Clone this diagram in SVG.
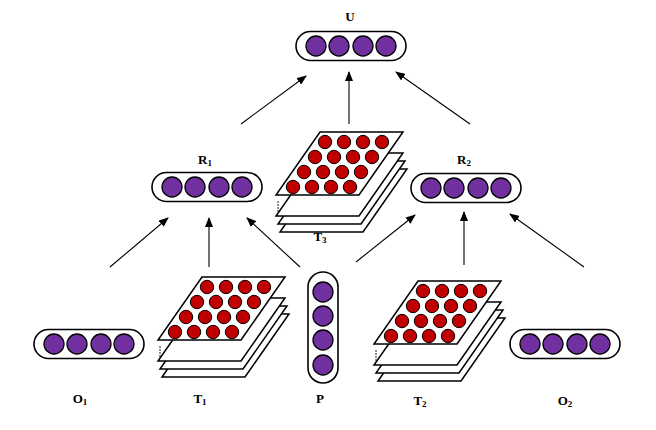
<svg xmlns="http://www.w3.org/2000/svg" xmlns:xlink="http://www.w3.org/1999/xlink" width="656" height="430" viewBox="0 0 656 430">
<style>
.pill{fill:#fff;stroke:#000;stroke-width:1.6}
.p{fill:#7030a0;stroke:#000;stroke-width:1.3}
.r{fill:#c00000;stroke:#000;stroke-width:1}
.sh{fill:#fff;stroke:#000;stroke-width:1.5}
.lbl{font-family:"Liberation Serif",serif;font-weight:bold;font-size:13px;text-anchor:middle}
.sub{font-size:9px}
.c{stroke:#000;stroke-width:1.1;fill:none;marker-end:url(#ah)}
</style>
<defs>
<marker id="ah" markerWidth="10" markerHeight="8" refX="9" refY="4" orient="auto" markerUnits="userSpaceOnUse"><path d="M0,0 L10,4 L0,8 z" fill="#000"/></marker>
<g id="hp"><rect class="pill" x="-55" y="-14.5" width="110" height="29" rx="14.5"/><circle class="p" cx="-35" cy="0" r="10"/><circle class="p" cx="-12" cy="0" r="10"/><circle class="p" cx="12" cy="0" r="10"/><circle class="p" cx="35" cy="0" r="10"/></g>
<g id="ten">
<path class="sh" d="M48,37 L131,37 L87,100 L4,100 Z"/>
<path class="sh" d="M46,29 L129,29 L85,92 L2,92 Z"/>
<path class="sh" d="M44,21 L127,21 L83,84 L0,84 Z"/>
<path class="sh" d="M44,0 L127,0 L83,63 L0,63 Z"/>
<g fill="#000"><circle cx="2" cy="70" r="0.8"/><circle cx="2" cy="73" r="0.8"/><circle cx="2" cy="76" r="0.8"/><circle cx="2" cy="79" r="0.8"/></g>
<circle class="r" cx="49" cy="10" r="6.7"/><circle class="r" cx="68" cy="10" r="6.7"/><circle class="r" cx="87" cy="10" r="6.7"/><circle class="r" cx="106" cy="10" r="6.7"/>
<circle class="r" cx="39" cy="25" r="6.7"/><circle class="r" cx="58" cy="25" r="6.7"/><circle class="r" cx="77" cy="25" r="6.7"/><circle class="r" cx="96" cy="25" r="6.7"/>
<circle class="r" cx="28" cy="40" r="6.7"/><circle class="r" cx="47" cy="40" r="6.7"/><circle class="r" cx="66" cy="40" r="6.7"/><circle class="r" cx="85" cy="40" r="6.7"/>
<circle class="r" cx="17" cy="55" r="6.7"/><circle class="r" cx="36" cy="55" r="6.7"/><circle class="r" cx="55" cy="55" r="6.7"/><circle class="r" cx="74" cy="55" r="6.7"/>
</g>
</defs>
<rect width="656" height="430" fill="#fff"/>
<g id="U"><use xlink:href="#hp" href="#hp" x="351" y="46"/><text class="lbl" x="350" y="21">U</text></g>
<g id="R1"><use href="#hp" x="207" y="187"/><text class="lbl" x="205" y="164">R<tspan class="sub" dy="2">1</tspan></text></g>
<g id="R2"><use href="#hp" x="466" y="188"/><text class="lbl" x="464" y="164">R<tspan class="sub" dy="2">2</tspan></text></g>
<g id="O1"><use href="#hp" x="89" y="344"/><text class="lbl" x="80" y="403">O<tspan class="sub" dy="2">1</tspan></text></g>
<g id="O2"><use href="#hp" x="565" y="344"/><text class="lbl" x="565" y="405">O<tspan class="sub" dy="2">2</tspan></text></g>
<g id="T3"><use href="#ten" x="276" y="132"/><text class="lbl" x="320" y="241">T<tspan class="sub" dy="2">3</tspan></text></g>
<g id="T1"><use href="#ten" x="158" y="277"/><text class="lbl" x="200" y="403">T<tspan class="sub" dy="2">1</tspan></text></g>
<g id="T2"><use href="#ten" x="374" y="281"/><text class="lbl" x="420" y="405">T<tspan class="sub" dy="2">2</tspan></text></g>
<g id="P"><rect class="pill" x="308" y="272" width="30" height="111" rx="15"/><circle class="p" cx="323" cy="292" r="10"/><circle class="p" cx="323" cy="316" r="10"/><circle class="p" cx="323" cy="340" r="10"/><circle class="p" cx="323" cy="365" r="10"/><text class="lbl" x="320" y="403">P</text></g>
<g id="connectors">
<line class="c" x1="241" y1="124" x2="306" y2="76"/>
<line class="c" x1="349" y1="124" x2="349" y2="72"/>
<line class="c" x1="470" y1="124" x2="396" y2="72"/>
<line class="c" x1="110" y1="267" x2="168" y2="218"/>
<line class="c" x1="209" y1="267" x2="209" y2="218"/>
<line class="c" x1="300" y1="267" x2="247" y2="218"/>
<line class="c" x1="356" y1="262" x2="415" y2="215"/>
<line class="c" x1="464" y1="265" x2="464" y2="212"/>
<line class="c" x1="584" y1="267" x2="510" y2="214"/>
</g>
</svg>
